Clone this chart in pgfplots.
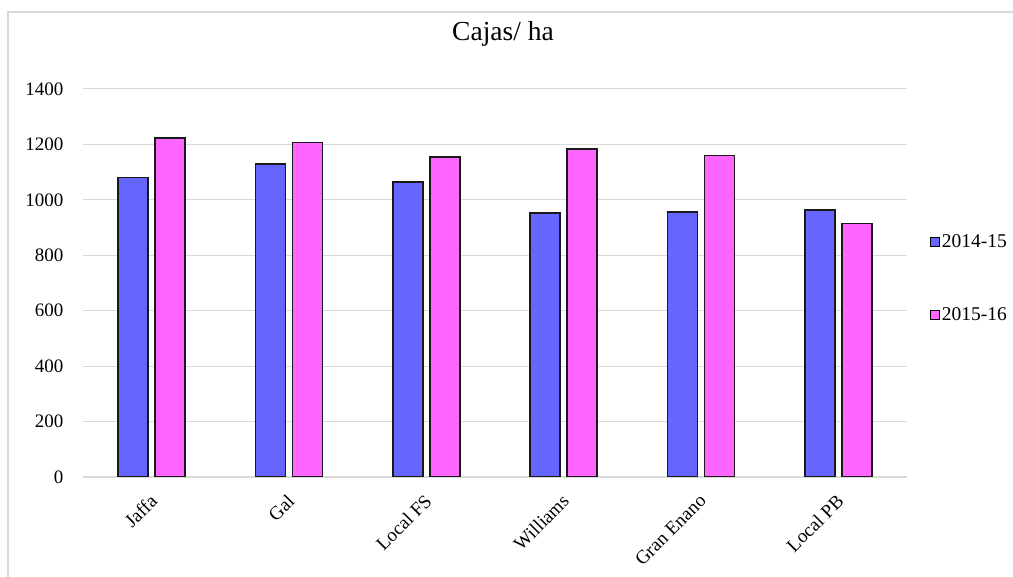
\documentclass[border=0pt]{standalone}
\usepackage{pgfplots}
\pgfplotsset{compat=1.18}
\usepackage{fontspec}
\setmainfont{Liberation Serif}
\definecolor{bblue}{HTML}{6666FF}
\definecolor{bmag}{HTML}{FF66FF}
\definecolor{gridc}{HTML}{D9D9D9}
\begin{document}
\begin{tikzpicture}[x=1pt,y=1pt]
\useasboundingbox (0,0) rectangle (1013,577);
\draw[gridc, line width=2pt] (8,0) -- (8,565) -- (1013,565);
\node[font=\fontsize{27.5}{31}\selectfont] at (503,543) {Cajas/ ha};
\begin{axis}[
  at={(83pt,100pt)}, anchor=south west,
  scale only axis, width=824pt, height=388pt,
  ybar=7pt, bar width=30pt,
  xmin=-0.5, xmax=5.5, ymin=0, ymax=1400,
  ytick={0,200,...,1400},
  xtick={0,1,2,3,4,5},
  xticklabels={Jaffa,Gal,Local FS,Williams,Gran Enano,Local PB},
  x tick label style={rotate=45, anchor=north east, font=\fontsize{19}{22}\selectfont, xshift=-10pt, yshift=-6pt},
  y tick label style={font=\fontsize{19}{22}\selectfont, xshift=-16pt},
  /pgf/number format/assume math mode=true,
  /pgf/number format/1000 sep={},
  major tick length=0pt,
  ymajorgrids, grid style={gridc, line width=1pt},
  axis x line*=bottom, axis y line*=left,
  x axis line style={draw=gridc, line width=1.2pt, -},
  y axis line style={draw=none},
  legend style={at={(1.028,0.512)}, anchor=west, draw=none, fill=none,
    font=\fontsize{19.5}{22}\selectfont, row sep=54pt, inner sep=0pt},
  legend cell align=left,
  legend image code/.code={\draw[#1,draw=black,line width=0.6pt] (0pt,-4.5pt) rectangle (9pt,4.5pt);},
]
\addplot[fill=bblue, draw=black!90, line width=1.5pt] coordinates {(0,1080) (1,1129) (2,1064) (3,952) (4,956) (5,964)};
\addplot[fill=bmag, draw=black!90, line width=1.5pt] coordinates {(0,1224) (1,1207) (2,1155) (3,1183) (4,1160) (5,915)};
\legend{2014-15,2015-16}
\end{axis}
\end{tikzpicture}
\end{document}
